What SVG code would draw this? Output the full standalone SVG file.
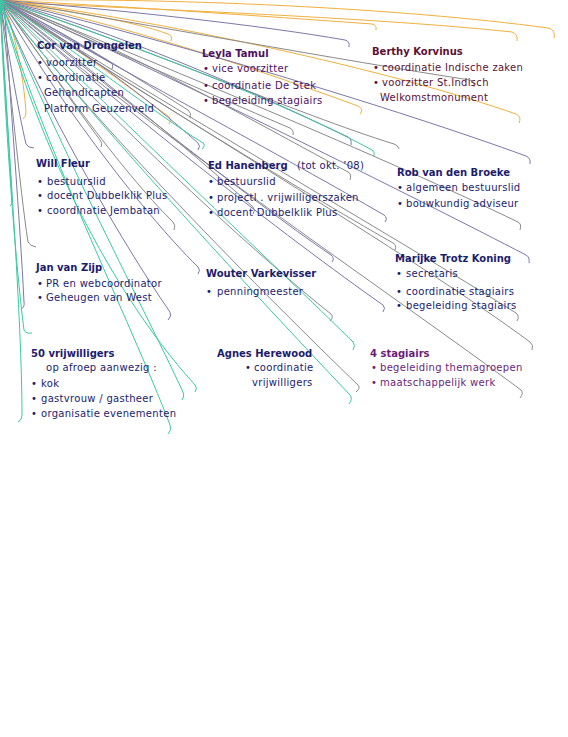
<svg xmlns="http://www.w3.org/2000/svg" width="568" height="737" viewBox="0 0 568 737">
<style>
.o{fill:none;stroke:#f0b040;stroke-width:1}
.g{fill:none;stroke:#8a8a8a;stroke-width:1}
.s{fill:none;stroke:#7a78a8;stroke-width:1}
.t{fill:none;stroke:#3cc8a4;stroke-width:1}
text{font-family:"DejaVu Sans","Verdana",sans-serif;font-size:10px}
.h{font-weight:bold}
.r{letter-spacing:0.3px}
.n{fill:#1c1c6c}
.p{fill:#4e1060}
.m{fill:#5c1034}
.q{fill:#6a1e7a}
</style>
<rect width="568" height="737" fill="#ffffff"/>
<g id="connectors">
<path class="o" d="M2,0 C180,-2 400,8 548,28 q8,2 6,10"/>
<path class="o" d="M0,2 C170,10 380,18 512,32 q6,2 5,9"/>
<path class="o" d="M0,0 C160,20 390,70 516,114 q6,3 3,9"/>
<path class="o" d="M0,0 C110,20 260,70 358,106 q6,3 2,8"/>
<path class="o" d="M0,0 C60,10 130,20 168,34 q5,2 3,7"/>
<path class="o" d="M0,0 C50,30 120,80 168,116 q4,3 1,8"/>
<path class="o" d="M2,0 C15,30 24,80 26,112 q0,5 -3,7"/>
<path class="o" d="M0,0 C120,6 260,16 372,24 q5,1 4,6"/>
<path class="s" d="M0,0 C120,10 260,25 345,40 q5,1 4,7"/>
<path class="g" d="M0,0 C70,35 140,80 188,110 q4,3 2,8"/>
<path class="s" d="M0,0 C170,40 400,110 526,156 q5,2 4,8"/>
<path class="g" d="M0,0 C140,45 300,115 394,144 q4,1 5,5"/>
<path class="g" d="M0,0 C150,60 390,160 518,222 q4,2 2,8"/>
<path class="s" d="M0,0 C120,70 290,160 384,215 q4,3 1,7"/>
<path class="g" d="M0,0 C120,80 300,190 393,243 q4,2 2,7"/>
<path class="s" d="M0,0 C160,70 420,200 526,255 q4,2 3,8"/>
<path class="g" d="M0,0 C140,90 400,240 516,313 q4,3 1,8"/>
<path class="s" d="M0,0 C110,100 290,240 383,305 q3,3 0,7"/>
<path class="g" d="M0,0 C120,110 400,300 521,390 q3,3 -1,8"/>
<path class="g" d="M0,0 C150,100 420,260 530,342 q4,3 2,8"/>
<path class="g" d="M0,0 C90,120 270,300 358,385 q3,3 -2,7"/>
<path class="s" d="M0,0 C100,80 250,200 331,255 q4,3 1,7"/>
<path class="g" d="M0,0 C90,100 250,250 331,314 q3,3 -1,7"/>
<path class="s" d="M0,0 C40,100 120,240 170,312 q2,4 -2,8"/>
<path class="s" d="M4,0 C10,100 20,220 24,302 q1,5 -3,7"/>
<path class="g" d="M0,0 C10,80 20,190 28,242 q2,4 8,5"/>
<path class="s" d="M0,0 C8,50 18,110 26,144 q2,4 8,4"/>
<path class="g" d="M0,0 C50,70 120,170 173,222 q3,3 1,8"/>
<path class="s" d="M0,0 C70,40 150,100 198,143 q3,3 0,7"/>
<path class="g" d="M0,0 C130,50 270,130 348,172 q4,2 2,8"/>
<path class="s" d="M0,0 C130,35 270,100 348,137 q4,2 3,8"/>
<path class="g" d="M0,0 C80,60 190,150 253,207 q3,3 0,7"/>
<path class="s" d="M0,0 C50,90 140,210 198,267 q3,3 0,7"/>
<path class="g" d="M0,0 C90,40 200,90 290,128 q4,2 3,7"/>
<path class="s" d="M0,0 C40,20 80,45 110,62 q4,2 2,7"/>
<path class="g" d="M0,0 C30,40 70,100 100,140 q3,3 1,7"/>
<path class="g" d="M0,0 C150,25 340,60 470,80 q5,1 4,7"/>
<path class="t" d="M0,0 C5,120 15,260 24,330 q2,4 8,3"/>
<path class="t" d="M0,0 C8,140 22,320 22,415 q0,5 -4,7"/>
<path class="t" d="M0,0 C40,140 130,320 170,425 q2,5 -2,9"/>
<path class="t" d="M0,0 C50,130 140,300 183,392 q2,4 -1,8"/>
<path class="t" d="M0,0 C100,130 270,310 350,395 q3,4 -1,9"/>
<path class="t" d="M0,0 C110,110 280,270 353,342 q3,3 0,8"/>
<path class="t" d="M0,0 C60,40 150,110 203,143 q3,2 -1,6"/>
<path class="t" d="M0,0 C120,40 280,100 372,150 q3,2 2,6"/>
<path class="t" d="M0,0 C30,120 100,280 195,385 q3,3 0,7"/>
<path class="t" d="M0,0 C3,60 8,130 12,200 q1,4 -2,6"/>
</g>
<g id="cor">
<text class="h n" x="37" y="49">Cor van Drongelen</text>
<text class="r n" y="66"><tspan x="37">•</tspan><tspan x="46">voorzitter</tspan></text>
<text class="r n" y="81"><tspan x="37">•</tspan><tspan x="46">coordinatie</tspan></text>
<text class="r n" x="44" y="96">Gehandicapten</text>
<text class="r n" x="44" y="112">Platform  Geuzenveld</text>
</g>
<g id="leyla">
<text class="h p" x="202" y="57">Leyla  Tamul</text>
<text class="r p" y="72"><tspan x="203">•</tspan><tspan x="212">vice voorzitter</tspan></text>
<text class="r p" y="89"><tspan x="203">•</tspan><tspan x="212">coordinatie  De  Stek</tspan></text>
<text class="r p" y="104"><tspan x="203">•</tspan><tspan x="212">begeleiding stagiairs</tspan></text>
</g>
<g id="berthy">
<text class="h m" x="372" y="55">Berthy Korvinus</text>
<text class="r m" y="71"><tspan x="373">•</tspan><tspan x="382">coordinatie  Indische  zaken</tspan></text>
<text class="r m" y="86"><tspan x="373">•</tspan><tspan x="382">voorzitter  St.Indisch</tspan></text>
<text class="r m" x="380" y="101">Welkomstmonument</text>
</g>
<g id="will">
<text class="h n" x="36" y="167">Will Fleur</text>
<text class="r n" y="185"><tspan x="37">•</tspan><tspan x="47">bestuurslid</tspan></text>
<text class="r n" y="199"><tspan x="37">•</tspan><tspan x="47">docent  Dubbelklik Plus</tspan></text>
<text class="r n" y="214"><tspan x="37">•</tspan><tspan x="47">coordinatie Jembatan</tspan></text>
</g>
<g id="ed">
<text class="n" x="208" y="169"><tspan class="h">Ed Hanenberg</tspan><tspan class="r" x="297">(tot okt.  ’08)</tspan></text>
<text class="r n" y="185"><tspan x="208">•</tspan><tspan x="217">bestuurslid</tspan></text>
<text class="r n" y="201"><tspan x="208">•</tspan><tspan x="217">projectl . vrijwilligerszaken</tspan></text>
<text class="r n" y="216"><tspan x="208">•</tspan><tspan x="217">docent  Dubbelklik  Plus</tspan></text>
</g>
<g id="rob">
<text class="h n" x="397" y="176">Rob van den  Broeke</text>
<text class="r n" y="191"><tspan x="397">•</tspan><tspan x="406">algemeen bestuurslid</tspan></text>
<text class="r n" y="207"><tspan x="397">•</tspan><tspan x="406">bouwkundig  adviseur</tspan></text>
</g>
<g id="jan">
<text class="h n" x="36" y="271">Jan van  Zijp</text>
<text class="r n" y="287"><tspan x="37">•</tspan><tspan x="46">PR en webcoordinator</tspan></text>
<text class="r n" y="301"><tspan x="37">•</tspan><tspan x="46">Geheugen van West</tspan></text>
</g>
<g id="wouter">
<text class="h n" x="206" y="277">Wouter  Varkevisser</text>
<text class="r n" y="295"><tspan x="206">•</tspan><tspan x="217">penningmeester</tspan></text>
</g>
<g id="marijke">
<text class="h n" x="395" y="262">Marijke  Trotz  Koning</text>
<text class="r n" y="277"><tspan x="396">•</tspan><tspan x="406">secretaris</tspan></text>
<text class="r n" y="295"><tspan x="396">•</tspan><tspan x="406">coordinatie  stagiairs</tspan></text>
<text class="r n" y="309"><tspan x="396">•</tspan><tspan x="406">begeleiding stagiairs</tspan></text>
</g>
<g id="vrijwilligers">
<text class="h n" x="31" y="357">50 vrijwilligers</text>
<text class="r n" x="46" y="371">op afroep aanwezig :</text>
<text class="r n" y="387"><tspan x="31">•</tspan><tspan x="41">kok</tspan></text>
<text class="r n" y="402"><tspan x="31">•</tspan><tspan x="41">gastvrouw  /  gastheer</tspan></text>
<text class="r n" y="417"><tspan x="31">•</tspan><tspan x="41">organisatie evenementen</tspan></text>
</g>
<g id="agnes">
<text class="h n" x="217" y="357">Agnes  Herewood</text>
<text class="r n" y="371"><tspan x="245">•</tspan><tspan x="254">coordinatie</tspan></text>
<text class="r n" x="252" y="386">vrijwilligers</text>
</g>
<g id="stagiairs">
<text class="h q" x="370" y="357">4 stagiairs</text>
<text class="r q" y="371"><tspan x="371">•</tspan><tspan x="380">begeleiding  themagroepen</tspan></text>
<text class="r q" y="386"><tspan x="371">•</tspan><tspan x="380">maatschappelijk   werk</tspan></text>
</g>
</svg>
